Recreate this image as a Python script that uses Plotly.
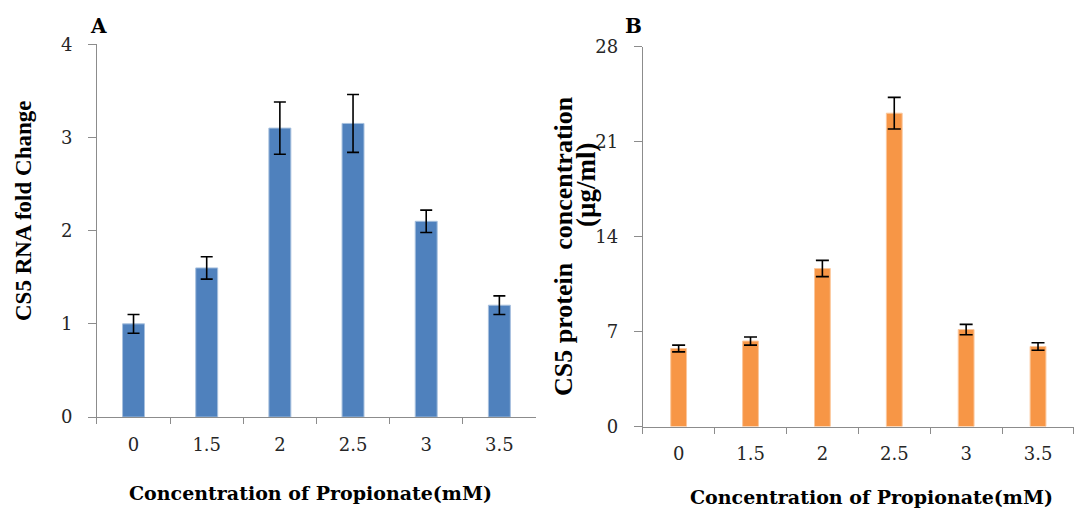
import plotly.graph_objects as go

categories = ["0", "1.5", "2", "2.5", "3", "3.5"]
rna_fold = [1.0, 1.6, 3.1, 3.15, 2.1, 1.2]
rna_err = [0.1, 0.12, 0.28, 0.31, 0.12, 0.1]
protein = [5.75, 6.3, 11.65, 23.1, 7.15, 5.9]
protein_err = [0.25, 0.3, 0.6, 1.17, 0.38, 0.28]

ytick_a = [0, 1, 2, 3, 4]
ytick_b = [0, 7, 14, 21, 28]

AX = "#8c8c8c"
TICKFONT = dict(family="DejaVu Serif", size=18, color="#262626")

fig = go.Figure()
fig.add_trace(go.Bar(
    x=categories, y=rna_fold, width=0.3,
    marker=dict(color="#4F81BD", line=dict(color="#A7C0DE", width=1)),
    error_y=dict(type="data", array=rna_err, color="black", thickness=1.6, width=6),
    xaxis="x", yaxis="y", showlegend=False,
))
fig.add_trace(go.Bar(
    x=categories, y=protein, width=0.22,
    marker=dict(color="#F79646", line=dict(color="#FBC79C", width=1)),
    error_y=dict(type="data", array=protein_err, color="black", thickness=1.6, width=6.5),
    xaxis="x2", yaxis="y2", showlegend=False,
))

xcommon = dict(type="category", range=[-0.5, 5.5], showline=True, linecolor=AX, linewidth=1,
               ticks="outside", tickson="boundaries", ticklen=6, tickcolor=AX, automargin=False,
               showgrid=False, zeroline=False, tickfont=TICKFONT, ticklabelstandoff=11)
ycommon = dict(showline=True, linecolor=AX, linewidth=1, ticks="outside", ticklen=8,
               tickcolor=AX, showgrid=False, zeroline=False, tickfont=TICKFONT, automargin=False,
               ticklabelstandoff=12)

fig.update_layout(
    width=1076, height=508, autosize=False,
    margin=dict(l=0, r=0, t=0, b=0, pad=0),
    paper_bgcolor="white", plot_bgcolor="white",
    xaxis=dict(domain=[0.0901, 0.4981], anchor="y", **xcommon),
    yaxis=dict(domain=[0.179, 0.913], anchor="x", range=[0, 4], tickvals=ytick_a, **ycommon),
    xaxis2=dict(domain=[0.5973, 0.9981], anchor="y2", **xcommon),
    yaxis2=dict(domain=[0.1604, 0.908], anchor="x2", range=[0, 28], tickvals=ytick_b, **ycommon),
)

ann = []
def a(text, x, y, size, family="Liberation Serif", angle=0, bold=True):
    ann.append(dict(text=f"<b>{text}</b>" if bold else text, x=x / 1076, y=1 - y / 508,
                    xref="paper", yref="paper", showarrow=False, textangle=angle,
                    xanchor="center", yanchor="middle",
                    font=dict(family=family, size=size, color="black")))

a("A", 98, 26, 20, family="DejaVu Serif")
a("B", 633, 26, 20, family="DejaVu Serif")
a("CS5 RNA fold Change", 24, 211, 23, angle=-90)
a("CS5 protein&nbsp; concentration", 563, 246, 26, angle=-90)
a("(µg/ml)", 586, 185, 27, angle=-90)
a("Concentration of Propionate(mM)", 310, 493, 19, family="DejaVu Serif")
a("Concentration of Propionate(mM)", 872, 497, 19, family="DejaVu Serif")
fig.update_layout(annotations=ann)

fig.write_html("out.html")
